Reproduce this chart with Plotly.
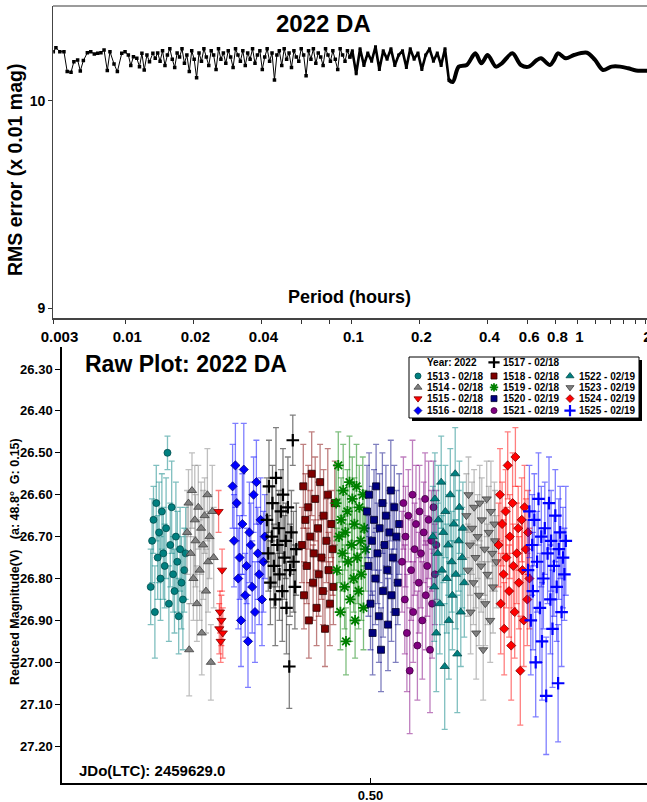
import numpy as np
import plotly.graph_objects as go

# ---------------------------------------------------------------------------
# Period search for 2022 DA (top panel)
# ---------------------------------------------------------------------------
# Short-period end of the scan: trial periods (hours) and RMS (x 0.01 mag)
SCAN_PERIODS_SHORT = [0.00480, 0.00493, 0.00513, 0.00535, 0.00553, 0.00575, 0.00592,
                      0.00615, 0.00632, 0.00652, 0.00679, 0.00703, 0.00729, 0.00755,
                      0.00780, 0.00805, 0.00832, 0.00855, 0.00891, 0.00922, 0.00964,
                      0.00997, 0.01031, 0.01057, 0.01086, 0.01124, 0.01155, 0.01184,
                      0.01212, 0.01246, 0.01279, 0.01324, 0.01356]
SCAN_RMS_SHORT = [10.236, 10.255, 10.236, 10.236, 10.140, 10.137, 10.188, 10.196, 10.143,
                  10.193, 10.231, 10.236, 10.225, 10.228, 10.231, 10.244, 10.145, 10.236,
                  10.177, 10.140, 10.228, 10.236, 10.220, 10.169, 10.212, 10.204, 10.164,
                  10.228, 10.148, 10.220, 10.188, 10.228, 10.204]

# Dense part of the scan, evenly spaced in log(period)
SCAN_DENSE_LIMITS = (0.0139, 0.0985)
SCAN_RMS_DENSE = [10.23, 10.19, 10.24, 10.17, 10.22, 10.25, 10.20, 10.16, 10.23, 10.21,
                  10.25, 10.18, 10.22, 10.14, 10.24, 10.20, 10.11, 10.23, 10.19, 10.25,
                  10.21, 10.17, 10.24, 10.22, 10.15, 10.25, 10.20, 10.23, 10.18, 10.24,
                  10.21, 10.16, 10.25, 10.22, 10.19, 10.24, 10.17, 10.23, 10.20, 10.25,
                  10.18, 10.22, 10.24, 10.15, 10.21, 10.25, 10.19, 10.23, 10.10, 10.22,
                  10.24, 10.17, 10.25, 10.20, 10.23, 10.16, 10.24, 10.21, 10.19, 10.25,
                  10.22, 10.12, 10.24, 10.20, 10.25, 10.18, 10.23, 10.21, 10.17, 10.25,
                  10.22, 10.19, 10.24, 10.20, 10.15, 10.25, 10.22, 10.19, 10.24, 10.21]

SCAN_MID_LIMITS = (0.101, 0.270)
SCAN_RMS_MID = [10.24, 10.13, 10.25, 10.17, 10.23, 10.19, 10.26, 10.15, 10.24, 10.20,
                10.25, 10.17, 10.22, 10.24, 10.16, 10.25, 10.20, 10.23, 10.15, 10.22,
                10.25, 10.19, 10.23, 10.17, 10.25, 10.10]

# Long-period end of the scan (smooth)
SCAN_PERIODS_LONG = [0.2809, 0.2986, 0.324, 0.3534, 0.3762, 0.4007, 0.4357, 0.4632,
                     0.5155, 0.5625, 0.610, 0.662, 0.690, 0.756, 0.788, 0.820, 0.890,
                     0.966, 1.103, 1.197, 1.298, 1.417, 1.545, 1.676, 1.818, 2.055]
SCAN_RMS_LONG = [10.090, 10.164, 10.172, 10.228, 10.180, 10.220, 10.164, 10.180, 10.228,
                 10.172, 10.164, 10.196, 10.204, 10.172, 10.196, 10.228, 10.204, 10.220,
                 10.231, 10.196, 10.148, 10.164, 10.164, 10.156, 10.145, 10.145]

PERIOD_TICK_VALUES = [0.0048, 0.01, 0.02, 0.04, 0.06, 0.08, 0.1, 0.2, 0.4, 0.6, 0.8, 1,
                      1.2, 1.4, 1.6, 1.8, 2]
PERIOD_TICK_LABELS = ["\u00a0\u00a00.003", "0.01", "0.02", "0.04", "", "", "0.1", "0.2", "0.4",
                      "0.6", "0.8", "1", "", "", "", "", "2"]
RMS_TICKS = [9, 10]

# ---------------------------------------------------------------------------
# Raw photometry, sessions 1513-1525 (bottom panel)
# time = JD - 2459629.0 (LTC), reduced V magnitude and 1-sigma error
# ---------------------------------------------------------------------------
T_1513 = [0.186, 0.188, 0.190, 0.192, 0.194, 0.196, 0.198, 0.200, 0.202, 0.204, 0.206, 0.208, 0.210,
          0.212, 0.214, 0.216, 0.218, 0.220, 0.222, 0.224, 0.226, 0.228, 0.230, 0.232, 0.234, 0.236]
M_1513 = [26.82, 26.71, 26.66, 26.88, 26.62, 26.75, 26.69, 26.80, 26.64, 26.74, 26.77, 26.68, 26.50,
          26.86, 26.72, 26.63, 26.79, 26.83, 26.70, 26.76, 26.89, 26.73, 26.81, 26.85, 26.78, 26.74]
E_1513 = [0.09, 0.10, 0.08, 0.11, 0.09, 0.10, 0.12, 0.10, 0.09, 0.11, 0.10, 0.12, 0.04,
          0.09, 0.10, 0.11, 0.09, 0.10, 0.13, 0.12, 0.09, 0.10, 0.11, 0.12, 0.10, 0.11]

T_1514 = [0.238, 0.240, 0.241, 0.243, 0.245, 0.247, 0.249, 0.250, 0.252, 0.254, 0.256,
          0.258, 0.259, 0.261, 0.263, 0.265, 0.267, 0.268, 0.270, 0.272, 0.274, 0.276]
M_1514 = [26.69, 26.62, 26.97, 26.74, 26.59, 26.80, 26.66, 26.71, 26.86, 26.63, 26.78,
          26.68, 26.93, 26.72, 26.65, 26.83, 26.60, 26.76, 26.70, 27.00, 26.64, 26.75]
E_1514 = [0.10, 0.08, 0.11, 0.12, 0.09, 0.10, 0.13, 0.11, 0.09, 0.10, 0.12,
          0.11, 0.10, 0.13, 0.09, 0.10, 0.11, 0.12, 0.10, 0.09, 0.11, 0.12]

T_1515 = [0.283, 0.284, 0.285, 0.286, 0.287, 0.288, 0.289]
M_1515 = [26.64, 26.92, 26.88, 26.95, 26.90, 26.78, 26.93]
E_1515 = [0.05, 0.06, 0.05, 0.05, 0.06, 0.05, 0.06]

T_1516 = [0.303, 0.305, 0.307, 0.309, 0.311, 0.313, 0.315, 0.317, 0.319, 0.321, 0.323, 0.325,
          0.327, 0.329, 0.331, 0.333, 0.335, 0.337, 0.339, 0.341, 0.343, 0.345, 0.347, 0.349]
M_1516 = [26.58, 26.71, 26.53, 26.62, 26.80, 26.75, 26.90, 26.67, 26.54, 26.84, 26.77, 26.95,
          26.69, 26.72, 26.82, 26.60, 26.88, 26.57, 26.74, 26.79, 26.66, 26.85, 26.76, 26.70]
E_1516 = [0.10, 0.11, 0.10, 0.09, 0.12, 0.10, 0.11, 0.12, 0.11, 0.10, 0.09, 0.11,
          0.12, 0.10, 0.11, 0.09, 0.12, 0.10, 0.11, 0.12, 0.10, 0.11, 0.12, 0.10]

T_1517 = [0.352, 0.354, 0.355, 0.357, 0.359, 0.360, 0.362, 0.364, 0.365, 0.367, 0.369, 0.370, 0.372,
          0.374, 0.375, 0.377, 0.379, 0.380, 0.382, 0.384, 0.385, 0.387, 0.389, 0.390, 0.392, 0.394]
M_1517 = [26.66, 26.74, 26.58, 26.81, 26.70, 26.62, 26.77, 26.85, 26.56, 26.72, 26.68, 26.79, 26.64,
          26.83, 26.60, 26.75, 26.71, 26.87, 26.63, 27.01, 26.78, 26.69, 26.47, 26.76, 26.82, 26.73]
E_1517 = [0.10, 0.09, 0.11, 0.10, 0.12, 0.09, 0.10, 0.11, 0.12, 0.10, 0.09, 0.11, 0.10,
          0.12, 0.11, 0.10, 0.09, 0.11, 0.12, 0.10, 0.11, 0.10, 0.06, 0.12, 0.10, 0.11]

T_1518 = [0.402, 0.404, 0.405, 0.407, 0.409, 0.411, 0.412, 0.414, 0.416, 0.418, 0.419, 0.421, 0.423, 0.425,
          0.426, 0.428, 0.430, 0.432, 0.433, 0.435, 0.437, 0.439, 0.440, 0.442, 0.444, 0.446, 0.447, 0.449]
M_1518 = [26.72, 26.58, 26.84, 26.66, 26.77, 26.63, 26.90, 26.70, 26.55, 26.81, 26.74, 26.61, 26.87, 26.68,
          26.79, 26.57, 26.75, 26.83, 26.65, 26.92, 26.71, 26.60, 26.78, 26.86, 26.67, 26.73, 26.82, 26.62]
E_1518 = [0.09, 0.10, 0.08, 0.11, 0.09, 0.10, 0.09, 0.11, 0.10, 0.09, 0.08, 0.10, 0.09, 0.11,
          0.10, 0.09, 0.10, 0.08, 0.11, 0.09, 0.10, 0.11, 0.09, 0.10, 0.08, 0.11, 0.09, 0.10]

T_1519 = [0.451, 0.452, 0.454, 0.455, 0.457, 0.458, 0.460, 0.461, 0.463, 0.464, 0.465, 0.467, 0.468, 0.470, 0.471,
          0.473, 0.474, 0.476, 0.477, 0.478, 0.480, 0.481, 0.483, 0.484, 0.486, 0.487, 0.489, 0.490, 0.491, 0.493]
M_1519 = [26.62, 26.78, 26.53, 26.70, 26.88, 26.66, 26.74, 26.59, 26.82, 26.69, 26.95, 26.64, 26.76, 26.57, 26.85,
          26.72, 26.61, 26.80, 26.67, 26.90, 26.58, 26.75, 26.83, 26.63, 26.71, 26.79, 26.60, 26.87, 26.68, 26.73]
E_1519 = [0.09, 0.10, 0.08, 0.11, 0.09, 0.10, 0.09, 0.11, 0.10, 0.09, 0.08, 0.10, 0.09, 0.11, 0.10,
          0.09, 0.10, 0.08, 0.11, 0.09, 0.10, 0.11, 0.09, 0.10, 0.08, 0.11, 0.09, 0.10, 0.09, 0.10]

T_1520 = [0.495, 0.497, 0.498, 0.500, 0.502, 0.503, 0.505, 0.507, 0.508, 0.510, 0.512, 0.513, 0.515, 0.517,
          0.518, 0.520, 0.522, 0.524, 0.525, 0.527, 0.529, 0.530, 0.532, 0.534, 0.536, 0.537, 0.539, 0.541]
M_1520 = [26.64, 26.77, 26.60, 26.86, 26.71, 26.93, 26.66, 26.80, 26.58, 26.74, 26.89, 26.68, 26.97, 26.62,
          26.83, 26.72, 26.65, 26.78, 26.91, 26.69, 26.59, 26.84, 26.75, 26.63, 26.88, 26.70, 26.81, 26.67]
E_1520 = [0.11, 0.12, 0.10, 0.11, 0.13, 0.10, 0.12, 0.11, 0.10, 0.12, 0.11, 0.13, 0.10, 0.12,
          0.11, 0.10, 0.12, 0.13, 0.11, 0.10, 0.12, 0.11, 0.13, 0.10, 0.12, 0.11, 0.10, 0.12]

T_1521 = [0.545, 0.547, 0.549, 0.550, 0.552, 0.554, 0.556, 0.558, 0.560, 0.561, 0.563, 0.565, 0.567, 0.569,
          0.570, 0.572, 0.574, 0.576, 0.578, 0.579, 0.581, 0.583, 0.585, 0.587, 0.588, 0.590, 0.592, 0.594]
M_1521 = [26.76, 26.62, 26.85, 26.70, 26.93, 26.65, 27.02, 26.78, 26.60, 26.88, 26.73, 26.67, 26.96, 26.81,
          26.64, 26.74, 26.90, 26.69, 26.61, 26.84, 26.77, 26.66, 26.97, 26.71, 26.86, 26.63, 26.79, 26.72]
E_1521 = [0.12, 0.11, 0.13, 0.12, 0.14, 0.11, 0.15, 0.12, 0.13, 0.12, 0.11, 0.14, 0.13, 0.12,
          0.11, 0.13, 0.14, 0.12, 0.11, 0.13, 0.12, 0.14, 0.15, 0.12, 0.13, 0.11, 0.12, 0.13]

T_1522 = [0.589, 0.591, 0.592, 0.594, 0.596, 0.597, 0.599, 0.601, 0.602, 0.604, 0.606, 0.607, 0.609, 0.611,
          0.612, 0.614, 0.616, 0.617, 0.619, 0.621, 0.622, 0.624, 0.626, 0.627, 0.629, 0.631, 0.632, 0.634]
M_1522 = [26.70, 26.82, 26.61, 26.93, 26.74, 26.66, 26.86, 26.57, 26.78, 26.69, 27.01, 26.64, 26.80, 26.72,
          26.90, 26.60, 26.76, 26.84, 26.67, 26.55, 26.79, 26.98, 26.71, 26.63, 26.88, 26.75, 26.68, 26.81]
E_1522 = [0.12, 0.13, 0.11, 0.14, 0.12, 0.13, 0.12, 0.11, 0.13, 0.12, 0.15, 0.11, 0.13, 0.12,
          0.14, 0.11, 0.12, 0.13, 0.12, 0.11, 0.13, 0.14, 0.12, 0.11, 0.13, 0.12, 0.11, 0.13]

T_1523 = [0.637, 0.639, 0.640, 0.642, 0.643, 0.645, 0.647, 0.648, 0.650, 0.651, 0.653, 0.655, 0.656, 0.658,
          0.659, 0.661, 0.663, 0.664, 0.666, 0.667, 0.669, 0.671, 0.672, 0.674, 0.675, 0.677, 0.678, 0.680]
M_1523 = [26.65, 26.78, 26.60, 26.72, 26.88, 26.68, 26.81, 26.63, 26.75, 26.93, 26.70, 26.84, 26.62, 26.77,
          26.66, 26.97, 26.73, 26.86, 26.61, 26.79, 26.69, 26.90, 26.64, 26.74, 26.82, 26.67, 26.71, 26.76]
E_1523 = [0.10, 0.11, 0.09, 0.12, 0.10, 0.11, 0.10, 0.09, 0.12, 0.11, 0.10, 0.12, 0.09, 0.11,
          0.10, 0.12, 0.11, 0.10, 0.09, 0.12, 0.11, 0.10, 0.12, 0.09, 0.11, 0.10, 0.12, 0.11]

T_1524 = [0.683, 0.685, 0.686, 0.688, 0.690, 0.691, 0.693, 0.694, 0.696, 0.698, 0.699, 0.701, 0.703, 0.704,
          0.706, 0.707, 0.709, 0.711, 0.712, 0.714, 0.716, 0.717, 0.719, 0.720, 0.722, 0.724, 0.725, 0.727]
M_1524 = [26.72, 26.60, 26.86, 26.67, 26.79, 26.92, 26.64, 26.75, 26.53, 26.83, 26.70, 26.96, 26.62, 26.77,
          26.88, 26.51, 26.74, 26.68, 26.81, 27.02, 26.66, 26.78, 26.90, 26.63, 26.73, 26.85, 26.69, 26.80]
E_1524 = [0.10, 0.11, 0.12, 0.10, 0.13, 0.11, 0.10, 0.12, 0.08, 0.11, 0.10, 0.13, 0.12, 0.10,
          0.11, 0.07, 0.12, 0.10, 0.11, 0.13, 0.10, 0.12, 0.11, 0.10, 0.12, 0.11, 0.10, 0.12]

T_1525 = [0.725, 0.727, 0.729, 0.731, 0.732, 0.734, 0.736, 0.738, 0.740, 0.742, 0.744, 0.745, 0.747, 0.749, 0.751,
          0.753, 0.755, 0.757, 0.758, 0.760, 0.762, 0.764, 0.766, 0.768, 0.769, 0.771, 0.773, 0.775, 0.777, 0.779]
M_1525 = [26.78, 26.64, 26.90, 26.72, 26.83, 26.66, 27.00, 26.76, 26.61, 26.87, 26.70, 26.95, 26.80, 26.68, 27.08,
          26.74, 26.62, 26.85, 26.71, 26.92, 26.77, 26.65, 26.82, 27.05, 26.73, 26.69, 26.88, 26.75, 26.79, 26.71]
E_1525 = [0.12, 0.11, 0.13, 0.12, 0.14, 0.11, 0.13, 0.12, 0.11, 0.13, 0.12, 0.14, 0.12, 0.11, 0.14,
          0.12, 0.11, 0.13, 0.12, 0.14, 0.12, 0.11, 0.13, 0.14, 0.12, 0.11, 0.13, 0.12, 0.11, 0.13]

SESSION_IDS = ["1513", "1514", "1515", "1516", "1517", "1518", "1519",
               "1520", "1521", "1522", "1523", "1524", "1525"]
SESSION_DATES = ["02/18", "02/18", "02/18", "02/18", "02/18", "02/18", "02/18",
                 "02/19", "02/19", "02/19", "02/19", "02/19", "02/19"]
SESSION_DATA = {
    "1513": (T_1513, M_1513, E_1513), "1514": (T_1514, M_1514, E_1514),
    "1515": (T_1515, M_1515, E_1515), "1516": (T_1516, M_1516, E_1516),
    "1517": (T_1517, M_1517, E_1517), "1518": (T_1518, M_1518, E_1518),
    "1519": (T_1519, M_1519, E_1519), "1520": (T_1520, M_1520, E_1520),
    "1521": (T_1521, M_1521, E_1521), "1522": (T_1522, M_1522, E_1522),
    "1523": (T_1523, M_1523, E_1523), "1524": (T_1524, M_1524, E_1524),
    "1525": (T_1525, M_1525, E_1525),
}
MAG_TICKS = [26.30, 26.40, 26.50, 26.60, 26.70, 26.80, 26.90, 27.00, 27.10, 27.20]
TIME_TICKS = [0.50]
JD_ZERO = "2459629.0"
YEAR = "2022"

# ---------------------------------------------------------------------------
# Styles
# ---------------------------------------------------------------------------
FONT = "Liberation Sans, Arial, Helvetica, sans-serif"
W, H = 647, 802

# (fill colour, symbol, size, outline colour, outline width, error-bar rgb)
STYLE = {
    "1513": ("#008080", "circle", 7, "#004d4d", 0.8, "0,128,128"),
    "1514": ("#808080", "triangle-up", 8, "#404040", 0.8, "128,128,128"),
    "1515": ("#ff0000", "triangle-down", 8, "#800000", 0.8, "255,0,0"),
    "1516": ("#0000ff", "diamond", 7, "#000080", 0.8, "0,0,255"),
    "1517": ("#000000", "cross-thin", 9, "#000000", 2.2, "0,0,0"),
    "1518": ("#800000", "square", 7, "#2a0000", 0.8, "128,0,0"),
    "1519": ("#008000", "asterisk", 9, "#008000", 1.8, "0,128,0"),
    "1520": ("#000080", "square", 7, "#00002a", 0.8, "0,0,128"),
    "1521": ("#800080", "circle", 7, "#400040", 0.8, "128,0,128"),
    "1522": ("#008080", "triangle-up", 8, "#004d4d", 0.8, "0,128,128"),
    "1523": ("#808080", "triangle-down", 8, "#404040", 0.8, "128,128,128"),
    "1524": ("#ff0000", "diamond", 7, "#800000", 0.8, "255,0,0"),
    "1525": ("#0000ff", "cross-thin", 9, "#0000ff", 2.2, "0,0,255"),
}


def fx(px):
    return px / W


def fy(px):
    return 1 - px / H


def bold(size, color="black"):
    return dict(family=FONT, size=size, color=color, weight="bold")


fig = go.Figure()

# ---------------- top panel: periodogram ----------------
p_dense = np.geomspace(SCAN_DENSE_LIMITS[0], SCAN_DENSE_LIMITS[1], len(SCAN_RMS_DENSE))
p_mid = np.geomspace(SCAN_MID_LIMITS[0], SCAN_MID_LIMITS[1], len(SCAN_RMS_MID))

fig.add_trace(go.Scatter(
    x=list(SCAN_PERIODS_SHORT) + list(p_dense),
    y=list(SCAN_RMS_SHORT) + list(SCAN_RMS_DENSE),
    mode="lines+markers", line=dict(color="black", width=1),
    marker=dict(symbol="square", size=3.5, color="black"),
    xaxis="x", yaxis="y", showlegend=False, hoverinfo="skip"))
fig.add_trace(go.Scatter(
    x=[p_dense[-1]] + list(p_mid), y=[SCAN_RMS_DENSE[-1]] + list(SCAN_RMS_MID),
    mode="lines+markers", line=dict(color="black", width=2.6),
    marker=dict(symbol="square", size=3, color="black"),
    xaxis="x", yaxis="y", showlegend=False, hoverinfo="skip"))
fig.add_trace(go.Scatter(
    x=[p_mid[-1]] + SCAN_PERIODS_LONG, y=[SCAN_RMS_MID[-1]] + SCAN_RMS_LONG,
    mode="lines", line=dict(color="black", width=4, shape="spline", smoothing=0.9),
    xaxis="x", yaxis="y", showlegend=False, hoverinfo="skip"))

# ---------------- bottom panel: raw light curve ----------------
for sid in SESSION_IDS:
    t, m, e = SESSION_DATA[sid]
    col, sym, size, lcol, lw, rgb = STYLE[sid]
    fig.add_trace(go.Scatter(
        x=t, y=m, mode="markers",
        error_y=dict(type="data", array=e, visible=True, color=f"rgba({rgb},0.5)",
                     thickness=1.3, width=3),
        marker=dict(symbol=sym, size=size, color=col, line=dict(color=lcol, width=lw)),
        xaxis="x2", yaxis="y2", showlegend=False, hoverinfo="skip"))

# ---------------- hand-built key in its own little axes ----------------
KEY_ROWS = [362.3, 376.0, 387.4, 398.6, 410.6]
KEY_MARK_X = [418, 494, 570]
KEY_TEXT_X = [425.5, 501.5, 577.5]
key_cells = [(0, 1, "1517")]
for r, trio in enumerate([("1513", "1518", "1522"), ("1514", "1519", "1523"),
                          ("1515", "1520", "1524"), ("1516", "1521", "1525")], start=1):
    for c, sid in enumerate(trio):
        key_cells.append((r, c, sid))

annotations = []
for r, c, sid in key_cells:
    col, sym, size, lcol, lw, rgb = STYLE[sid]
    msize = size - 2 if sym == "asterisk" else size - 1
    fig.add_trace(go.Scatter(
        x=[KEY_MARK_X[c]], y=[KEY_ROWS[r]], mode="markers",
        marker=dict(symbol=sym, size=msize, color=col, line=dict(color=lcol, width=lw)),
        xaxis="x4", yaxis="y4", showlegend=False, hoverinfo="skip"))
    date = SESSION_DATES[SESSION_IDS.index(sid)]
    annotations.append(dict(x=KEY_TEXT_X[c], y=KEY_ROWS[r], xref="x4", yref="y4",
                            text=f"{sid} - {date}", showarrow=False, xanchor="left",
                            yanchor="middle", font=bold(10), borderpad=0))
annotations.append(dict(x=KEY_TEXT_X[0], y=KEY_ROWS[0], xref="x4", yref="y4",
                        text=f"Year: {YEAR}", showarrow=False, xanchor="left",
                        yanchor="middle", font=bold(10), borderpad=0))

# ---------------- titles and labels ----------------
annotations += [
    dict(x=fx(323), y=fy(23), xref="paper", yref="paper", text="2022 DA",
         showarrow=False, font=bold(24), xanchor="center", yanchor="middle"),
    dict(x=fx(349), y=fy(297), xref="paper", yref="paper", text="Period (hours)",
         showarrow=False, font=bold(18), xanchor="center", yanchor="middle"),
    dict(x=fx(15), y=fy(170), xref="paper", yref="paper", text="RMS error (x 0.01 mag)",
         showarrow=False, font=bold(19.5), textangle=-90, xanchor="center", yanchor="middle"),
    dict(x=fx(83), y=fy(364), xref="paper", yref="paper", text="Raw Plot: 2022 DA",
         showarrow=False, font=bold(23), xanchor="left", yanchor="middle"),
    dict(x=fx(77), y=fy(770.5), xref="paper", yref="paper", text=f"JDo(LTC): {JD_ZERO}",
         showarrow=False, font=bold(15), xanchor="left", yanchor="middle"),
    dict(x=fx(15), y=fy(562), xref="paper", yref="paper",
         text="Reduced Magnitude(V)\u00a0\u00a0\u00a0(a: 48.8°\u00a0\u00a0G: 0.15)",
         showarrow=False, font=bold(12.5), textangle=-90, xanchor="center", yanchor="middle"),
]

shapes = [
    # top border of the periodogram frame
    dict(type="line", xref="paper", yref="paper", x0=fx(53), x1=1, y0=fy(6), y1=fy(6),
         line=dict(color="#7a7a7a", width=1.5)),
    # key box with drop shadow
    dict(type="rect", xref="paper", yref="paper", x0=fx(412), x1=fx(642),
         y0=fy(421), y1=fy(360), fillcolor="black", line=dict(width=0), layer="below"),
    dict(type="rect", xref="paper", yref="paper", x0=fx(409), x1=fx(639),
         y0=fy(418), y1=fy(357), fillcolor="white", line=dict(color="black", width=1),
         layer="below"),
]

mag_text = [f"{v:.2f}" for v in MAG_TICKS]
time_text = [f"{v:.2f}" for v in TIME_TICKS]
time_range = [0.0593, 0.895]
mag_range = [27.288, 26.2475]

fig.update_layout(
    template="none",
    width=W, height=H, margin=dict(l=0, r=0, t=0, b=0, pad=0, autoexpand=False),
    paper_bgcolor="white", plot_bgcolor="rgba(0,0,0,0)",
    font=dict(family=FONT, color="black"),
    showlegend=False,
    annotations=annotations, shapes=shapes,
    xaxis=dict(type="log", domain=[fx(53.3), 1], anchor="y", automargin=False,
               range=[np.log10(PERIOD_TICK_VALUES[0]), 0.308],
               tickmode="array", tickvals=PERIOD_TICK_VALUES, ticktext=PERIOD_TICK_LABELS,
               ticks="outside", ticklen=4, tickwidth=1, tickcolor="#333",
               ticklabeloverflow="allow", ticklabelshift=2,
               showline=True, linecolor="#444", linewidth=2,
               showgrid=False, zeroline=False, tickfont=bold(15)),
    yaxis=dict(domain=[fy(318.3), fy(6)], anchor="x", range=[8.952, 10.456], automargin=False,
               tickmode="array", tickvals=RMS_TICKS, ticktext=[str(v) for v in RMS_TICKS],
               ticks="outside", ticklen=4, tickwidth=1, tickcolor="#333",
               showline=True, linecolor="#444", linewidth=1.2,
               showgrid=False, zeroline=False, tickfont=bold(14)),
    xaxis2=dict(domain=[fx(62), 1], anchor="y2", range=time_range, automargin=False,
                tickmode="array", tickvals=TIME_TICKS, ticktext=time_text,
                ticks="inside", ticklen=5, tickwidth=1, tickcolor="black",
                showline=True, linecolor="black", linewidth=1.5,
                showgrid=False, zeroline=False, tickfont=bold(13)),
    yaxis2=dict(domain=[fy(783), fy(347)], anchor="x2", range=mag_range, automargin=False,
                tickmode="array", tickvals=MAG_TICKS, ticktext=mag_text,
                ticks="outside", ticklen=5, tickwidth=1, tickcolor="black",
                showline=True, linecolor="black", linewidth=1.5,
                showgrid=False, zeroline=False, tickfont=bold(13)),
    xaxis3=dict(overlaying="x2", side="top", anchor="y2", range=time_range, automargin=False,
                tickmode="array", tickvals=TIME_TICKS, ticks="outside", ticklen=5,
                tickcolor="black", showticklabels=False, showline=True,
                linecolor="black", linewidth=1.5, showgrid=False, zeroline=False),
    yaxis3=dict(overlaying="y2", side="right", anchor="x2", range=mag_range, automargin=False,
                tickmode="array", tickvals=MAG_TICKS, ticks="inside", ticklen=5,
                tickcolor="black", showticklabels=False, showline=False,
                showgrid=False, zeroline=False),
    xaxis4=dict(domain=[fx(409), fx(639)], anchor="y4", range=[409, 639],
                visible=False, fixedrange=True),
    yaxis4=dict(domain=[fy(418), fy(357)], anchor="x4", range=[418, 357],
                visible=False, fixedrange=True),
)

fig.write_html("out.html")
